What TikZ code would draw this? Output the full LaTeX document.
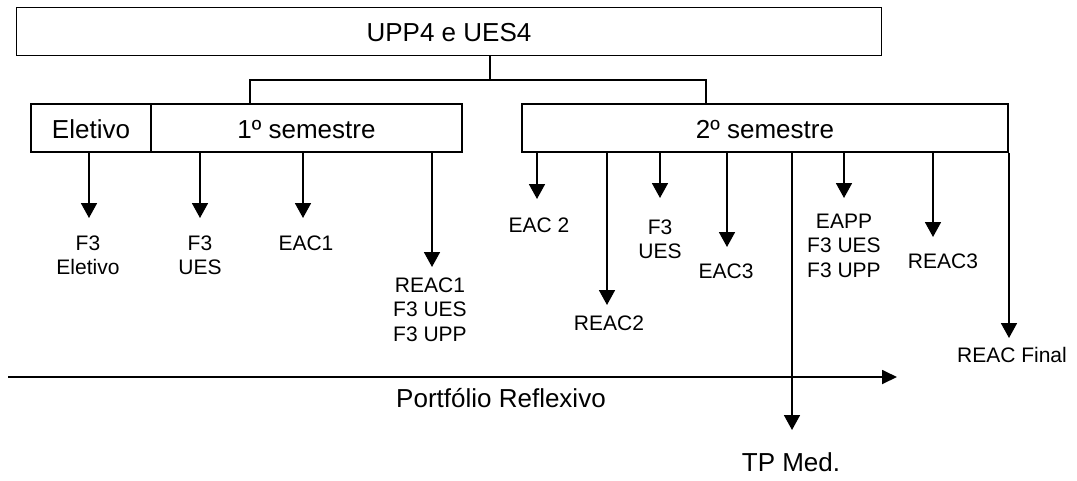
\documentclass[tikz,border=0pt]{standalone}
\usepackage{fontspec}
\setmainfont{Liberation Sans}
\usetikzlibrary{arrows.meta}
\newcommand\stk[1]{\begin{tabular}[t]{@{}c@{}}#1\end{tabular}}
\begin{document}
\begin{tikzpicture}[x=1pt,y=-1pt,
  box/.style={draw,line width=1.8pt,rectangle,minimum height=48pt,inner sep=0pt,
    font=\fontsize{26}{30}\selectfont,text height=20pt,text depth=0pt},
  lbl/.style={anchor=base,inner sep=0pt,font=\fontsize{21}{24.7}\selectfont},
  big/.style={anchor=base,inner sep=0pt,font=\fontsize{26}{30}\selectfont},
  arr/.style={line width=1.8pt,-{Triangle[width=16pt,length=15pt]}},
  ln/.style={line width=1.8pt}]
\useasboundingbox (0,0) rectangle (1077,480);

% boxes
\node[box,minimum width=865pt] (top) at (449,31.5) {UPP4 e UES4};
\node[box,minimum width=120pt] (elet) at (91,128) {Eletivo};
\node[box,minimum width=311pt] (sem1) at (306.5,128) {1º semestre};
\node[box,minimum width=486pt] (sem2) at (765,128) {2º semestre};

% tree connectors
\coordinate (j) at (490,80);
\coordinate (bl) at (250,80);
\coordinate (br) at (706,80);
\draw[ln] (top.south -| j) -- (j);
\draw[ln,line join=miter] (sem1.north -| bl) -- (bl) -- (br) -- (sem2.north -| br);

% first semester arrows
\coordinate (a1) at (89,218);
\coordinate (a2) at (200,218);
\coordinate (a3) at (303,218);
\coordinate (a4) at (432,267);
\draw[arr] (elet.south -| a1) -- (a1);
\draw[arr] (sem1.south -| a2) -- (a2);
\draw[arr] (sem1.south -| a3) -- (a3);
\draw[arr] (sem1.south -| a4) -- (a4);
\node[lbl] (l1) at (88,250) {\stk{F3\\Eletivo}};
\node[lbl] (l2) at (200,250) {\stk{F3\\UES}};
\node[lbl] (l3) at (306,250) {EAC1};
\node[lbl] (l4) at (430,292) {\stk{REAC1\\F3 UES\\F3 UPP}};

% second semester arrows
\coordinate (b1) at (537,199);
\coordinate (b2) at (607,305);
\coordinate (b3) at (660,198);
\coordinate (b4) at (727,247);
\coordinate (b5) at (792,430);
\coordinate (b6) at (844,198);
\coordinate (b7) at (933,237);
\coordinate (b8) at (1009,338);
\foreach \c in {b1,b2,b3,b4,b5,b6,b7,b8}
  \draw[arr] (sem2.south -| \c) -- (\c);
\node[lbl] (m1) at (539,232) {EAC 2};
\node[lbl] (m2) at (609,330) {REAC2};
\node[lbl] (m3) at (660,234) {\stk{F3\\UES}};
\node[lbl] (m4) at (726,278) {EAC3};
\node[big] (m5) at (791,471) {TP Med.};
\node[lbl] (m6) at (844,228) {\stk{EAPP\\F3 UES\\F3 UPP}};
\node[lbl] (m7) at (943,268) {REAC3};
\node[lbl] (m8) at (1012,362) {REAC Final};

% portfolio arrow
\coordinate (ps) at (8,377);
\coordinate (pe) at (897,377);
\draw[arr,-{Triangle[width=14pt,length=15pt]}] (ps) -- (pe);
\node[big] (port) at (501,407) {Portfólio Reflexivo};
\end{tikzpicture}
\end{document}
